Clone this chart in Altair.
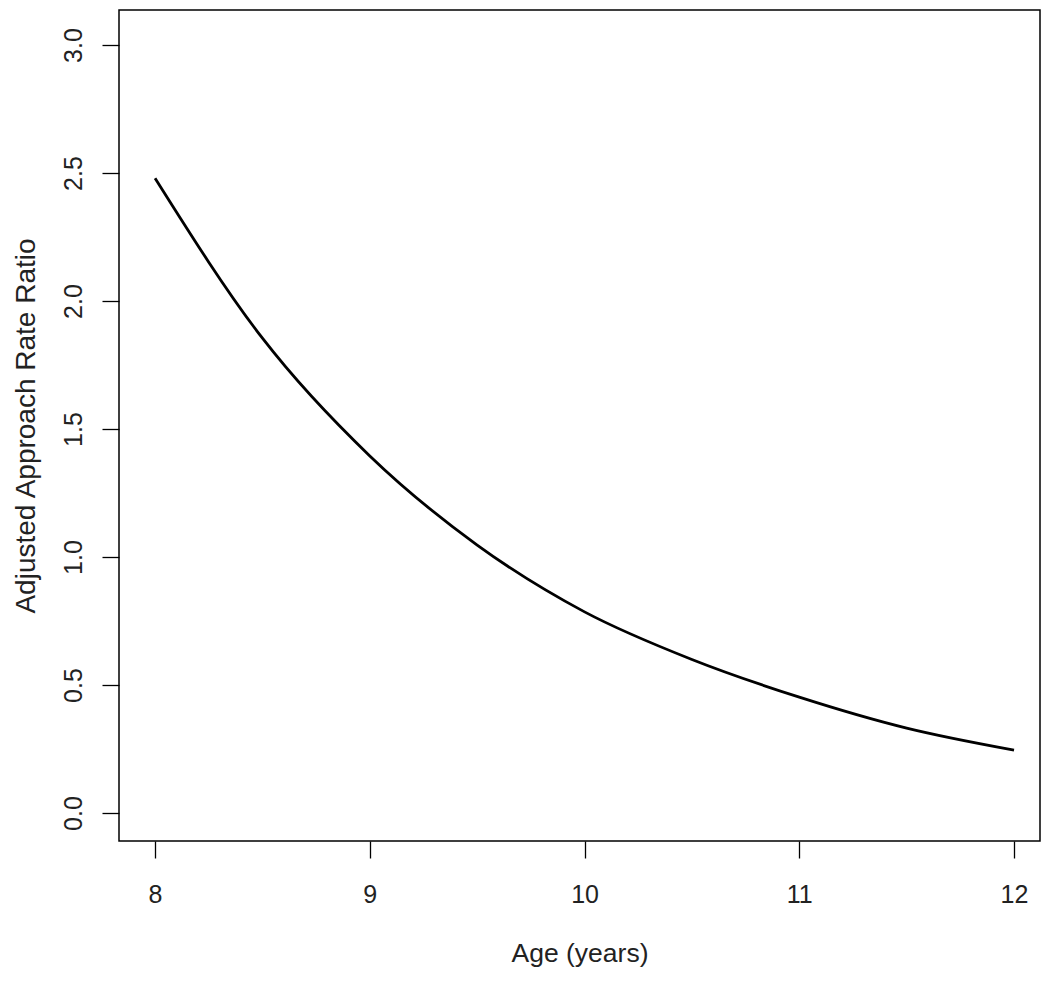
import altair as alt
import pandas as pd

age = [8.0, 8.5, 9.0, 9.5, 10.0, 10.5, 11.0, 11.5, 12.0]
ratio = [2.48, 1.855, 1.395, 1.047, 0.786, 0.600, 0.453, 0.332, 0.246]

df = pd.DataFrame({"age": age, "ratio": ratio})

FONT = "Liberation Sans"

chart = alt.Chart(df).mark_line(
    color="black", strokeWidth=2.8, interpolate="monotone"
).encode(
    x=alt.X("age:Q",
            scale=alt.Scale(domain=[7.832, 12.121], nice=False, zero=False),
            axis=alt.Axis(title="Age (years)", values=[8, 9, 10, 11, 12], format="d",
                          grid=False, domain=False, tickSize=17, tickColor="black",
                          tickWidth=1.3, labelFontSize=25, labelPadding=24,
                          labelColor="#222", labelFont=FONT, titleFont=FONT,
                          titleFontSize=26.5, titleFontWeight="normal", titleColor="#222",
                          titlePadding=33)),
    y=alt.Y("ratio:Q",
            scale=alt.Scale(domain=[-0.109, 3.137], nice=False, zero=False),
            axis=alt.Axis(title="Adjusted Approach Rate Ratio",
                          values=[0, 0.5, 1.0, 1.5, 2.0, 2.5, 3.0], format=".1f",
                          grid=False, domain=False, tickSize=17, tickColor="black",
                          tickWidth=1.3, labelFontSize=25, labelPadding=16,
                          labelAngle=270, labelAlign="center", labelBaseline="bottom",
                          labelColor="#222", labelFont=FONT, titleFont=FONT,
                          titleFontSize=28, titleFontWeight="normal", titleColor="#222",
                          titlePadding=21)),
).properties(
    width=921, height=831,
    autosize=alt.AutoSizeParams(type="none"),
    padding={"left": 111, "top": 2, "right": 2, "bottom": 133},
).configure(
    background="white"
).configure_view(
    stroke="black", strokeWidth=1.5
)

chart.save("out.html", embed_options={"renderer": "svg", "actions": False})
